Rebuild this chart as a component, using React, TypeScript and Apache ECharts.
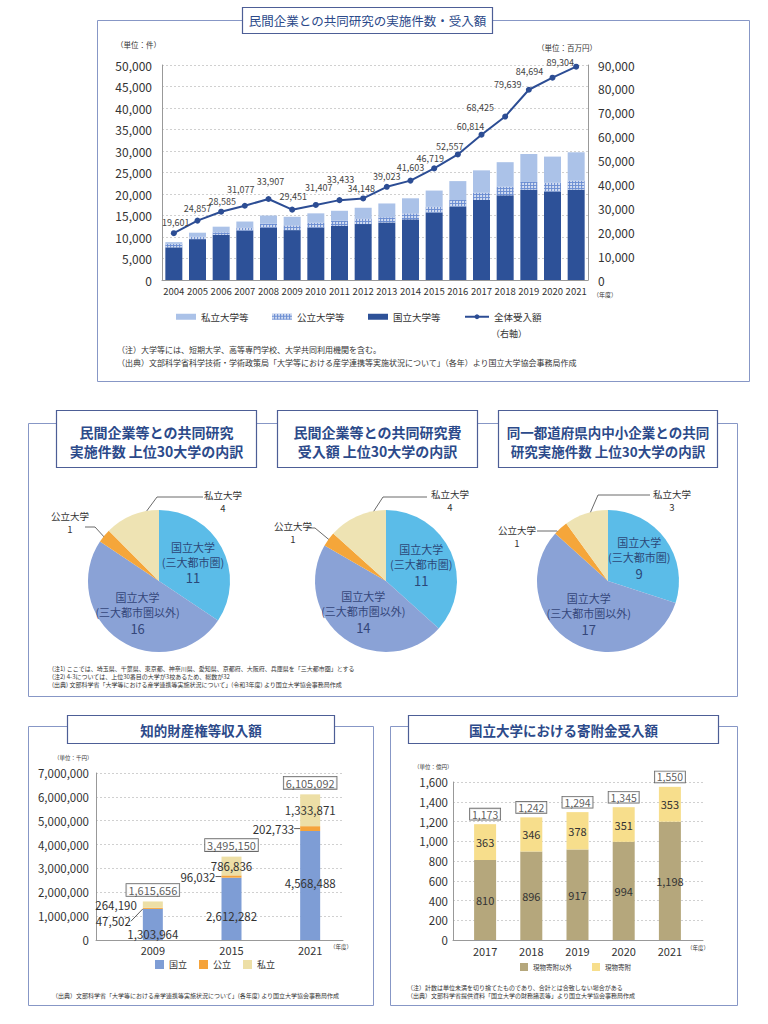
import React, { useEffect, useRef } from 'react';
import * as echarts from 'echarts';

// ---------- DATA ----------
const years = ['2004', '2005', '2006', '2007', '2008', '2009', '2010', '2011', '2012', '2013', '2014', '2015', '2016', '2017', '2018', '2019', '2020', '2021'];
const nationalCount = [7600, 9500, 10500, 11500, 12200, 11600, 12200, 12600, 13000, 13400, 14100, 15700, 17100, 18600, 19700, 21000, 20600, 21000];
const publicCount = [800, 600, 600, 700, 900, 1100, 1100, 1200, 1300, 1200, 1400, 1300, 1500, 1700, 2000, 1800, 2000, 2100];
const privateCount = [400, 900, 1300, 1400, 1900, 2000, 2200, 2300, 2500, 3200, 3500, 3800, 4400, 5200, 5700, 6500, 6100, 6600];
const totalAmount = [19601, 24857, 28585, 31077, 33907, 29451, 31407, 33433, 34148, 39023, 41603, 46719, 52557, 60814, 68425, 79639, 84694, 89304];

const pieCategories = ['国立大学(三大都市圏)', '国立大学(三大都市圏以外)', '公立大学', '私立大学'];
const pieJointCount = [11, 16, 1, 4];
const pieJointAmount = [11, 14, 1, 4];
const pieLocalSme = [9, 17, 1, 3];

const ipYears = ['2009', '2015', '2021'];
const ipNational = [1303964, 2612282, 4568488];
const ipPublic = [47502, 96032, 202733];
const ipPrivate = [264190, 786836, 1333871];
const ipTotal = [1615656, 3495150, 6105092];

const donationYears = ['2017', '2018', '2019', '2020', '2021'];
const donationOther = [810, 896, 917, 994, 1198];
const donationInKind = [363, 346, 378, 351, 353];
const donationTotal = [1173, 1242, 1294, 1345, 1550];

// ---------- STYLE / LAYOUT ----------
const FONT = 'Noto Sans CJK JP';
const BORDER = '#8797c6';
const BOXBORDER = '#4d5e96';
const TITLE = '#2c4a8a';
const fmt = (v: number) => Number(v).toLocaleString('en-US');

const lineLabelOffsets = [[2, -11], [0, -12], [1, -10], [-4, -16], [2, -17], [1, -13], [3, -17], [1, -21], [-2, -10], [0, -10], [0, -13], [-4, -10], [-8, -8], [-11, -8], [-25, -9], [-21, -5], [-23, -6], [-16, -4]];
const ipNationalLabelDy = [10, 7, -3];

const pieLayouts = [
  { cx: 159, cy: 581, pub: { lx: -89, ly: -59, pts: [[-53, -42], [-64, -54], [-74, -54]] }, pri: { lx: 64, ly: -80, pts: [[-16, -65], [-2, -84], [44, -84]] } },
  { cx: 386, cy: 581, pub: { lx: -93, ly: -49, pts: [[-53, -38], [-71, -53], [-78, -53]] }, pri: { lx: 64, ly: -81, pts: [[-16, -64], [-3, -84], [41, -84]] } },
  { cx: 608, cy: 581, pub: { lx: -91, ly: -45, pts: [[-43, -43], [-51, -50], [-71, -50]] }, pri: { lx: 64, ly: -81, pts: [[-20, -63], [-10, -86], [42, -86]] } },
];
const pieColors = ['#5bbce8', '#8aa2d6', '#f5a63a', '#eee3b3'];

function txt(text: string, x: number, y: number, size: number, o: any = {}) {
  return {
    type: 'text', x, y, silent: true,
    style: {
      text, fontSize: size, fontFamily: FONT, fill: o.fill || '#333',
      align: o.align || 'left', verticalAlign: 'middle',
      fontWeight: o.weight || 'normal', lineHeight: o.lh || Math.round(size * 1.25),
    },
  };
}
function box(x: number, y: number, w: number, h: number, stroke: string, fill: string, lw: number) {
  return { type: 'rect', silent: true, shape: { x, y, width: w, height: h }, style: { stroke, fill, lineWidth: lw } };
}

function buildOption(): any {
  const tb = { fill: TITLE, align: 'center', weight: 'bold', lh: 17 };
  const graphic: any[] = [
    // top panel
    box(97.5, 20.5, 652, 361, BORDER, 'none', 1),
    box(242.5, 7.5, 250, 26, BOXBORDER, '#fff', 1.2),
    txt('民間企業との共同研究の実施件数・受入額', 367.5, 20.5, 12.5, { fill: TITLE, align: 'center' }),
    txt('（単位：件）', 116, 44, 7.5),
    txt('（単位：百万円）', 537, 47, 7.5),
    txt('（年度）', 593, 294, 6),
    txt('（右軸）', 491, 333, 9),
    txt('（注）大学等には、短期大学、高等専門学校、大学共同利用機関を含む。', 117, 349, 8),
    txt('（出典）文部科学省科学技術・学術政策局「大学等における産学連携等実施状況について」（各年）より国立大学協会事務局作成', 117, 362, 8),
    // middle panel
    box(28.5, 423.5, 709, 273, BORDER, 'none', 1),
    box(56.5, 410.5, 200, 57, BOXBORDER, '#fff', 1.2),
    box(277.5, 410.5, 200, 57, BOXBORDER, '#fff', 1.2),
    box(498.5, 410.5, 219, 57, BOXBORDER, '#fff', 1.2),
    txt('民間企業等との共同研究', 156.5, 431.5, 14, tb),
    txt('実施件数 上位30大学の内訳', 156.5, 450.5, 14, tb),
    txt('民間企業等との共同研究費', 377.5, 431.5, 14, tb),
    txt('受入額 上位30大学の内訳', 377.5, 450.5, 14, tb),
    txt('同一都道府県内中小企業との共同', 608, 431.5, 13.5, tb),
    txt('研究実施件数 上位30大学の内訳', 608, 450.5, 13.5, tb),
    txt('(注1) ここでは、埼玉県、千葉県、東京都、神奈川県、愛知県、京都府、大阪府、兵庫県を「三大都市圏」とする', 52, 668, 6),
    txt('(注2) 4-3については、上位30番目の大学が3校あるため、総数が32', 52, 676, 6),
    txt('(出典) 文部科学省「大学等における産学連携等実施状況について」(令和3年度) より国立大学協会事務局作成', 52, 684, 6),
    // bottom-left panel
    box(28.5, 726.5, 345, 279, BORDER, 'none', 1),
    box(67.5, 715.5, 267, 28, BOXBORDER, '#fff', 1.2),
    txt('知的財産権等収入額', 201, 729.5, 13.5, { fill: TITLE, align: 'center', weight: 'bold' }),
    txt('（単位：千円）', 54, 758, 5.5),
    txt('（年度）', 330, 947, 5.5),
    txt('（出典）文部科学省「大学等における産学連携等実施状況について」(各年度) より国立大学協会事務局作成', 52, 995, 6),
    // bottom-right panel
    box(390.5, 726.5, 347, 279, BORDER, 'none', 1),
    box(408.5, 715.5, 310, 28, BOXBORDER, '#fff', 1.2),
    txt('国立大学における寄附金受入額', 563.5, 729.5, 13.5, { fill: TITLE, align: 'center', weight: 'bold' }),
    txt('（単位：億円）', 414, 767, 5.5),
    txt('（年度）', 687, 948, 5.5),
    txt('（注）計数は単位未満を切り捨てたものであり、合計とは合致しない場合がある', 407, 987, 6),
    txt('（出典）文部科学省提供資料「国立大学の財務諸表等」より国立大学協会事務局作成', 407, 995, 6),
  ];

  const dashed = { show: true, lineStyle: { color: '#c4c4c4', type: [2, 2], width: 0.8 } };
  const axLine = { show: true, lineStyle: { color: '#999', width: 1 } };
  const lbl = (size: number, extra: any = {}) => ({ show: true, fontSize: size, color: '#333', fontFamily: FONT, formatter: (p: any) => fmt(p.value), ...extra });

  const pieSeries = [pieJointCount, pieJointAmount, pieLocalSme].map((vals, pi) => {
    const L = pieLayouts[pi];
    return {
      type: 'pie', radius: 71, center: [L.cx, L.cy], startAngle: 90, clockwise: true,
      avoidLabelOverlap: false, silent: true,
      data: vals.map((v, i) => {
        const name = pieCategories[i];
        const inside = i < 2;
        const c = i === 0 ? '#2b4878' : '#34467a';
        return {
          name, value: v,
          itemStyle: { color: pieColors[i] },
          label: inside
            ? {
                position: 'inside', fontFamily: FONT,
                formatter: '{n|' + name.replace('(', '}\n{n|(') + '}\n{v|' + v + '}',
                rich: {
                  n: { fontSize: 11, lineHeight: 15, color: c, fontFamily: FONT },
                  v: { fontSize: 13, lineHeight: 17, color: c, fontFamily: FONT },
                },
              }
            : { position: 'outside', formatter: '{b}\n{c}', fontSize: 9.5, lineHeight: 13, color: '#333', fontFamily: FONT },
          labelLine: { show: !inside, lineStyle: { color: '#444', width: 0.8 } },
        };
      }),
      labelLayout: (p: any) => {
        if (p.dataIndex < 2) return {};
        const c = p.dataIndex === 2 ? L.pub : L.pri;
        return {
          x: L.cx + c.lx, y: L.cy + c.ly, align: 'center', verticalAlign: 'middle',
          labelLinePoints: c.pts.map((q: number[]) => [L.cx + q[0], L.cy + q[1]]),
        };
      },
    };
  });

  const legendBase = { padding: 0, textStyle: { fontSize: 9.5, color: '#333', fontFamily: FONT }, selectedMode: false };

  return {
    animation: false,
    textStyle: { fontFamily: FONT },
    graphic,
    legend: [
      { ...legendBase, data: [{ name: '私立大学等', icon: 'rect' }], left: 176, top: 312, itemWidth: 20, itemHeight: 6 },
      { ...legendBase, data: [{ name: '公立大学等', icon: 'rect' }], left: 272, top: 312, itemWidth: 20, itemHeight: 6 },
      { ...legendBase, data: [{ name: '国立大学等', icon: 'rect' }], left: 368, top: 312, itemWidth: 20, itemHeight: 6 },
      { ...legendBase, data: ['全体受入額'], left: 464, top: 312, itemWidth: 24, itemHeight: 6 },
      { ...legendBase, textStyle: { ...legendBase.textStyle, fontSize: 9 }, data: [{ name: '国立', icon: 'rect' }, { name: '公立', icon: 'rect' }, { name: '私立', icon: 'rect' }], left: 155, top: 960, itemWidth: 9, itemHeight: 9, itemGap: 12 },
      { ...legendBase, textStyle: { ...legendBase.textStyle, fontSize: 6.5 }, data: [{ name: '現物寄附以外', icon: 'rect' }, { name: '現物寄附', icon: 'rect' }], left: 520, top: 963, itemWidth: 8, itemHeight: 8, itemGap: 20 },
    ],
    grid: [
      { left: 162, top: 65, width: 426, height: 215 },
      { left: 96, top: 773, width: 247, height: 167 },
      { left: 113.5, top: 773, width: 236, height: 167 },
      { left: 453, top: 782, width: 250, height: 158 },
      { left: 462, top: 782, width: 231, height: 158 },
    ],
    xAxis: [
      { gridIndex: 0, type: 'category', data: years, axisLine: axLine, axisTick: { show: false }, axisLabel: { interval: 0, fontSize: 9.5, color: '#333', margin: 6, fontFamily: FONT } },
      { gridIndex: 1, type: 'value', min: 0, max: 1, axisLine: { ...axLine, onZero: false }, axisTick: { show: false }, axisLabel: { show: false }, splitLine: { show: false } },
      { gridIndex: 2, type: 'category', data: ipYears, axisLine: { show: false }, axisTick: { show: false }, axisLabel: { fontSize: 11, color: '#333', margin: 4, fontFamily: FONT } },
      { gridIndex: 3, type: 'value', min: 0, max: 1, axisLine: { ...axLine, onZero: false }, axisTick: { show: false }, axisLabel: { show: false }, splitLine: { show: false } },
      { gridIndex: 4, type: 'category', data: donationYears, axisLine: { show: false }, axisTick: { show: false }, axisLabel: { fontSize: 11, color: '#333', margin: 5, fontFamily: FONT } },
    ],
    yAxis: [
      { gridIndex: 0, type: 'value', min: 0, max: 50000, interval: 5000, axisLine: axLine, axisTick: { show: false }, splitLine: dashed, axisLabel: { fontSize: 12, color: '#333', margin: 10, fontFamily: FONT } },
      { gridIndex: 0, type: 'value', position: 'right', min: 0, max: 90000, interval: 10000, axisLine: axLine, axisTick: { show: false }, splitLine: { show: false }, axisLabel: { fontSize: 12, color: '#333', margin: 10, fontFamily: FONT } },
      { gridIndex: 1, type: 'value', min: 0, max: 7000000, interval: 1000000, axisLine: axLine, axisTick: { show: false }, splitLine: dashed, axisLabel: { fontSize: 11.5, color: '#333', margin: 7, fontFamily: FONT } },
      { gridIndex: 2, type: 'value', min: 0, max: 7000000, show: false },
      { gridIndex: 3, type: 'value', min: 0, max: 1600, interval: 200, axisLine: axLine, axisTick: { show: false }, splitLine: dashed, axisLabel: { fontSize: 11.5, color: '#333', margin: 5, fontFamily: FONT } },
      { gridIndex: 4, type: 'value', min: 0, max: 1600, show: false },
    ],
    series: [
      { name: '国立大学等', type: 'bar', stack: 'cnt', xAxisIndex: 0, yAxisIndex: 0, barWidth: 17, data: nationalCount, itemStyle: { color: '#2d5198' }, silent: true },
      {
        name: '公立大学等', type: 'bar', stack: 'cnt', xAxisIndex: 0, yAxisIndex: 0, barWidth: 17, data: publicCount, silent: true,
        itemStyle: { color: '#6c8ed2', decal: { symbol: 'circle', symbolSize: 1, dashArrayX: [2, 1], dashArrayY: [2, 1], color: 'rgba(255,255,255,0.8)' } },
      },
      { name: '私立大学等', type: 'bar', stack: 'cnt', xAxisIndex: 0, yAxisIndex: 0, barWidth: 17, data: privateCount, itemStyle: { color: '#abc2e8' }, silent: true },
      {
        name: '全体受入額', type: 'line', xAxisIndex: 0, yAxisIndex: 1, data: totalAmount, silent: true,
        symbol: 'circle', symbolSize: 6, itemStyle: { color: '#2c4d94' }, lineStyle: { color: '#2c4d94', width: 2 },
        label: lbl(9, { position: 'top', color: '#444' }),
        labelLayout: (p: any) => {
          const r = p.rect; const o = lineLabelOffsets[p.dataIndex] || [0, -12];
          return { x: r.x + r.width / 2 + o[0], y: r.y + r.height / 2 + o[1], align: 'center', verticalAlign: 'middle' };
        },
      },
      ...pieSeries,
      {
        name: '国立', type: 'bar', stack: 'ip', xAxisIndex: 2, yAxisIndex: 3, barWidth: 20, data: ipNational, silent: true,
        itemStyle: { color: '#7e9dd5' },
        label: lbl(11.5, { position: 'inside' }),
        labelLayout: (p: any) => ({ dy: ipNationalLabelDy[p.dataIndex] || 0 }),
      },
      {
        name: '公立', type: 'bar', stack: 'ip', xAxisIndex: 2, yAxisIndex: 3, barWidth: 20, data: ipPublic, silent: true,
        itemStyle: { color: '#f5a33a' },
        label: lbl(11.5, { position: 'left', distance: 6 }),
        labelLine: { show: true, lineStyle: { color: '#333', width: 0.8 } },
        labelLayout: (p: any) => (p.dataIndex === 0 ? { dx: -6, dy: 13 } : {}),
      },
      {
        name: '私立', type: 'bar', stack: 'ip', xAxisIndex: 2, yAxisIndex: 3, barWidth: 20, silent: true,
        data: ipPrivate.map((v, i) => (i === 0 ? { value: v, label: { position: 'left', distance: 6 }, labelLine: { show: true } } : v)),
        itemStyle: { color: '#eddfa6' },
        label: lbl(11.5, { position: 'inside' }),
        labelLine: { show: false, lineStyle: { color: '#333', width: 0.8 } },
      },
      {
        name: '知的財産権等合計', type: 'scatter', xAxisIndex: 2, yAxisIndex: 3, data: ipTotal, symbolSize: 1, silent: true, z: 5,
        itemStyle: { color: 'rgba(0,0,0,0)' },
        label: lbl(11, { position: 'top', distance: 5, lineHeight: 12, backgroundColor: '#fff', borderColor: '#444', borderWidth: 0.8, padding: [0, 2, 0, 2] }),
      },
      {
        name: '現物寄附以外', type: 'bar', stack: 'don', xAxisIndex: 4, yAxisIndex: 5, barWidth: 22, data: donationOther, silent: true,
        itemStyle: { color: '#b5a77c' },
        label: lbl(11, { position: 'inside' }),
      },
      {
        name: '現物寄附', type: 'bar', stack: 'don', xAxisIndex: 4, yAxisIndex: 5, barWidth: 22, data: donationInKind, silent: true,
        itemStyle: { color: '#f7de8c' },
        label: lbl(11, { position: 'inside' }),
      },
      {
        name: '寄附金合計', type: 'scatter', xAxisIndex: 4, yAxisIndex: 5, data: donationTotal, symbolSize: 1, silent: true, z: 5,
        itemStyle: { color: 'rgba(0,0,0,0)' },
        label: lbl(10.5, { position: 'top', distance: 4, lineHeight: 11, backgroundColor: '#fff', borderColor: '#444', borderWidth: 0.8, padding: [0, 2, 0, 2] }),
      },
    ],
  };
}

export default function App() {
  const ref = useRef<HTMLDivElement>(null);
  useEffect(() => {
    if (!ref.current) return;
    const chart = echarts.init(ref.current, null, { renderer: 'svg' });
    chart.setOption(buildOption());
    return () => chart.dispose();
  }, []);
  return <div ref={ref} style={{ position: 'absolute', left: 0, top: 0, width: 768, height: 1024, background: '#fff' }} />;
}
